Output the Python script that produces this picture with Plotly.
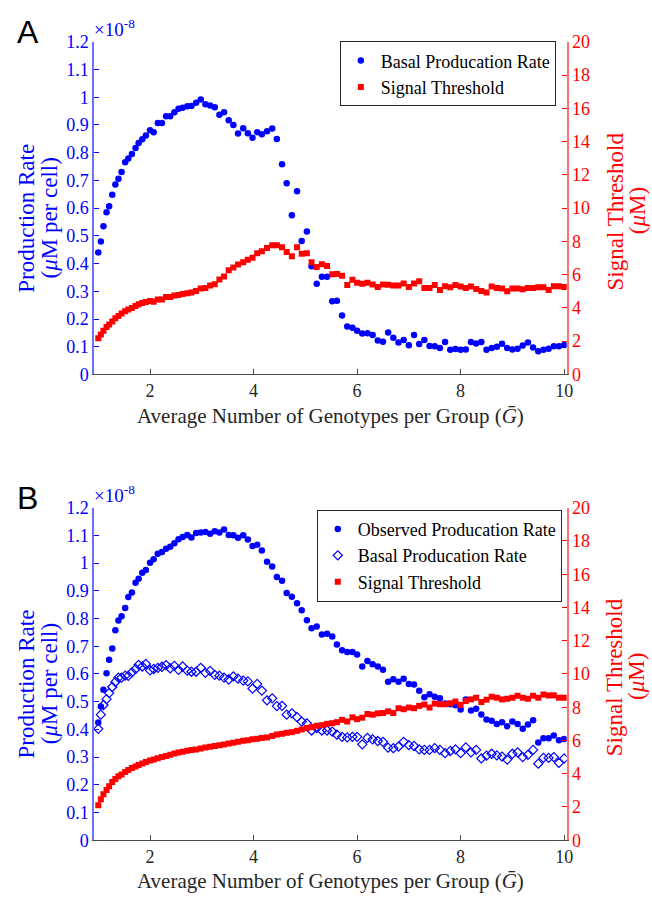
import plotly.graph_objects as go

# ---------------- data ----------------
x_vals = [1.00, 1.05, 1.10, 1.16, 1.21, 1.27, 1.33, 1.39, 1.45, 1.52, 1.58, 1.65, 1.72, 1.78, 1.85, 1.92, 2.00,
          2.07, 2.15, 2.23, 2.31, 2.39, 2.47, 2.55, 2.63, 2.72, 2.80, 2.89, 2.98, 3.07, 3.16, 3.25, 3.34, 3.43,
          3.52, 3.61, 3.70, 3.80, 3.89, 3.98,
          4.07, 4.16, 4.26, 4.36, 4.45, 4.55, 4.64, 4.74, 4.84, 4.93, 5.03, 5.12, 5.22, 5.32, 5.42, 5.52, 5.61,
          5.71, 5.81, 5.91,
          6.0, 6.1, 6.2, 6.3, 6.4, 6.5, 6.6, 6.7, 6.8, 6.9, 7.0, 7.1, 7.2, 7.3, 7.4, 7.5, 7.6, 7.7, 7.8, 7.9,
          8.0, 8.1, 8.2, 8.3, 8.4, 8.5, 8.6, 8.7, 8.8, 8.9, 9.0, 9.1, 9.2, 9.3, 9.4, 9.5, 9.6, 9.7, 9.8, 9.9, 10.0]

# Panel A (production rate in units of 1e-8 uM per cell, threshold in uM)
a_basal = [0.44, 0.48, 0.535, 0.585, 0.607, 0.648, 0.685, 0.706, 0.73, 0.765, 0.779, 0.795, 0.817, 0.835, 0.848, 0.862, 0.881,
           0.874, 0.907, 0.907, 0.931, 0.931, 0.946, 0.958, 0.962, 0.967, 0.968, 0.980, 0.992, 0.975, 0.970, 0.964, 0.937,
           0.946, 0.917, 0.900, 0.869, 0.888, 0.870, 0.854,
           0.874, 0.866, 0.877, 0.887, 0.849, 0.758, 0.690, 0.574, 0.661, 0.481, 0.516, 0.390, 0.327, 0.352, 0.352, 0.264,
           0.266, 0.213, 0.173, 0.168,
           0.158, 0.148, 0.149, 0.142, 0.122, 0.118, 0.151, 0.132, 0.115, 0.124, 0.105, 0.142, 0.110, 0.124, 0.103, 0.102,
           0.095, 0.117, 0.089, 0.092, 0.089, 0.090, 0.117, 0.112, 0.117, 0.089, 0.095, 0.100, 0.111, 0.095, 0.090, 0.093,
           0.104, 0.115, 0.097, 0.084, 0.089, 0.093, 0.102, 0.102, 0.106]
a_signal = [2.17, 2.40, 2.62, 2.85, 3.00, 3.18, 3.38, 3.52, 3.66, 3.80, 3.90, 4.00, 4.12, 4.22, 4.30, 4.36, 4.41,
            4.37, 4.51, 4.51, 4.65, 4.66, 4.75, 4.78, 4.84, 4.88, 4.92, 5.02, 5.16, 5.19, 5.34, 5.43, 5.71, 5.89, 6.26,
            6.43, 6.61, 6.75, 6.89, 7.01,
            7.28, 7.40, 7.60, 7.76, 7.76, 7.64, 7.36, 7.11, 7.64, 7.26, 7.28, 6.75, 6.46, 6.63, 6.52, 6.02, 6.04, 5.93,
            5.37, 5.69,
            5.51, 5.45, 5.51, 5.41, 5.25, 5.41, 5.40, 5.34, 5.34, 5.47, 5.25, 5.47, 5.61, 5.19, 5.19, 5.37, 5.08, 5.30,
            5.24, 5.37, 5.28, 5.19, 5.28, 5.14, 5.02, 4.92, 5.28, 5.19, 5.16, 5.00, 5.16, 5.16, 5.12, 5.19, 5.19, 5.24,
            5.24, 5.08, 5.30, 5.30, 5.25]

# Panel B
b_observed = [0.425, 0.483, 0.543, 0.603, 0.651, 0.692, 0.758, 0.793, 0.808, 0.838, 0.878, 0.894, 0.929, 0.944, 0.965,
              0.975, 1.001,
              1.014, 1.034, 1.040, 1.052, 1.059, 1.072, 1.086, 1.094, 1.102, 1.093, 1.109, 1.111, 1.112, 1.106, 1.115,
              1.111, 1.121, 1.102, 1.101, 1.092, 1.101, 1.085, 1.062,
              1.066, 1.046, 1.005, 0.988, 0.950, 0.936, 0.892, 0.879, 0.855, 0.830, 0.794, 0.765, 0.771, 0.742, 0.745,
              0.735, 0.706, 0.686, 0.679, 0.679,
              0.670, 0.627, 0.647, 0.635, 0.627, 0.615, 0.572, 0.581, 0.572, 0.583, 0.564, 0.562, 0.539, 0.516, 0.527,
              0.518, 0.512, 0.493, 0.491, 0.487, 0.472, 0.508, 0.468, 0.474, 0.454, 0.436, 0.431, 0.419, 0.426, 0.411,
              0.428, 0.419, 0.402, 0.418, 0.433, 0.353, 0.368, 0.368, 0.378, 0.361, 0.365]
b_basal = [0.402, 0.453, 0.488, 0.509, 0.531, 0.553, 0.571, 0.587, 0.587, 0.594, 0.593, 0.606, 0.618, 0.633, 0.627,
           0.636, 0.613,
           0.618, 0.622, 0.626, 0.632, 0.620, 0.629, 0.615, 0.627, 0.612, 0.608, 0.608, 0.622, 0.604, 0.611, 0.597,
           0.594, 0.587, 0.580, 0.591, 0.583, 0.576, 0.573, 0.547,
           0.564, 0.540, 0.505, 0.512, 0.484, 0.485, 0.453, 0.458, 0.444, 0.428, 0.422, 0.396, 0.405, 0.396, 0.396,
           0.392, 0.381, 0.373, 0.371, 0.373,
           0.373, 0.346, 0.369, 0.364, 0.358, 0.355, 0.334, 0.332, 0.338, 0.355, 0.343, 0.340, 0.328, 0.326, 0.326,
           0.332, 0.326, 0.314, 0.322, 0.328, 0.314, 0.335, 0.317, 0.326, 0.295, 0.305, 0.312, 0.306, 0.302, 0.291,
           0.312, 0.317, 0.300, 0.308, 0.326, 0.276, 0.297, 0.297, 0.300, 0.279, 0.295]
b_signal = [2.10, 2.47, 2.76, 3.02, 3.25, 3.50, 3.68, 3.84, 3.95, 4.10, 4.23, 4.34, 4.44, 4.52, 4.62, 4.70, 4.79,
            4.86, 4.93, 5.00, 5.07, 5.14, 5.21, 5.27, 5.32, 5.38, 5.42, 5.46, 5.52, 5.57, 5.62, 5.66, 5.71, 5.76, 5.81,
            5.86, 5.92, 5.98, 6.02, 6.07,
            6.10, 6.15, 6.18, 6.27, 6.36, 6.40, 6.46, 6.50, 6.58, 6.66, 6.75, 6.80, 6.88, 6.92, 7.00, 7.04, 7.10, 7.24,
            7.14, 7.39,
            7.28, 7.37, 7.59, 7.55, 7.63, 7.65, 7.75, 7.65, 7.94, 7.88, 7.98, 7.94, 8.08, 8.16, 7.98, 8.22, 8.18, 8.18,
            8.24, 8.34, 8.14, 8.37, 8.47, 8.57, 8.31, 8.45, 8.63, 8.57, 8.47, 8.51, 8.57, 8.69, 8.57, 8.51, 8.69, 8.57,
            8.76, 8.71, 8.72, 8.57, 8.57]

left_ticks = [0, 0.1, 0.2, 0.3, 0.4, 0.5, 0.6, 0.7, 0.8, 0.9, 1.0, 1.1, 1.2]
left_tick_text = ["0", "0.1", "0.2", "0.3", "0.4", "0.5", "0.6", "0.7", "0.8", "0.9", "1", "1.1", "1.2"]
right_ticks = [0, 2, 4, 6, 8, 10, 12, 14, 16, 18, 20]
x_ticks = [2, 4, 6, 8, 10]

# ---------------- styling ----------------
W, H = 652, 903
BLUE = "rgb(0,0,255)"
RED = "rgb(255,0,0)"
SERIF = "'Liberation Serif', 'Times New Roman', Times, serif"
SANS = "'Liberation Sans', Arial, Helvetica, sans-serif"
GREY = "#262626"


def px(x):
    return x / W


def py(y):
    return 1 - y / H


XL, XR = 95, 572
panels = [
    dict(top=32.5, bot=372.7),   # A
    dict(top=509.0, bot=849.0),  # B
]

fig = go.Figure()

# Panel A traces
fig.add_trace(go.Scatter(x=x_vals, y=a_basal, mode="markers", name="Basal Producation Rate",
                         marker=dict(symbol="circle", size=6.5, color=BLUE),
                         xaxis="x", yaxis="y", legend="legend"))
fig.add_trace(go.Scatter(x=x_vals, y=a_signal, mode="markers", name="Signal Threshold",
                         marker=dict(symbol="square", size=6, color=RED),
                         xaxis="x", yaxis="y2", legend="legend"))

# Panel B traces
fig.add_trace(go.Scatter(x=x_vals, y=b_observed, mode="markers", name="Observed Producation Rate",
                         marker=dict(symbol="circle", size=6.5, color=BLUE),
                         xaxis="x2", yaxis="y3", legend="legend2"))
fig.add_trace(go.Scatter(x=x_vals, y=b_basal, mode="markers", name="Basal Producation Rate",
                         marker=dict(symbol="diamond-open", size=7, color=BLUE, line=dict(width=1.2, color=BLUE)),
                         xaxis="x2", yaxis="y3", legend="legend2"))
fig.add_trace(go.Scatter(x=x_vals, y=b_signal, mode="markers", name="Signal Threshold",
                         marker=dict(symbol="square", size=6, color=RED),
                         xaxis="x2", yaxis="y4", legend="legend2"))

xdom = [px(XL), px(XR)]
common_x = dict(domain=xdom, range=[0.92, 10.05], tickvals=x_ticks, ticks="inside", ticklen=5,
                tickcolor="#4d4d4d", showline=True, linecolor="#4d4d4d", linewidth=1.2,
                showgrid=False, zeroline=False, tickfont=dict(family=SERIF, size=18, color=GREY))


def left_axis(dom, anchor):
    return dict(domain=dom, anchor=anchor, range=[0, 1.2], tickvals=left_ticks, ticktext=left_tick_text,
                ticks="inside", ticklen=5, tickcolor=BLUE, showline=True, linecolor="#6f6fff", linewidth=1.5,
                showgrid=False, zeroline=False, tickfont=dict(family=SERIF, size=18, color=BLUE))


def right_axis(overlay, anchor):
    return dict(overlaying=overlay, anchor=anchor, side="right", range=[0, 20], tickvals=right_ticks,
                ticks="inside", ticklen=5, tickcolor=RED, showline=True, linecolor="#ff7070", linewidth=1.5,
                showgrid=False, zeroline=False, tickfont=dict(family=SERIF, size=18, color=RED))


domA = [py(panels[0]["bot"]), py(panels[0]["top"])]
domB = [py(panels[1]["bot"]), py(panels[1]["top"])]

legend_common = dict(xanchor="right", yanchor="top", bgcolor="white",
                     bordercolor="#262626", borderwidth=1,
                     font=dict(family=SERIF, size=18, color="black"),
                     tracegroupgap=0, itemwidth=30)

fig.update_layout(
    width=W, height=H, autosize=False,
    margin=dict(l=0, r=0, t=0, b=0),
    paper_bgcolor="white", plot_bgcolor="white",
    font=dict(family=SERIF),
    xaxis=dict(common_x, anchor="y"),
    yaxis=left_axis(domA, "x"),
    yaxis2=right_axis("y", "x"),
    xaxis2=dict(common_x, anchor="y3"),
    yaxis3=left_axis(domB, "x2"),
    yaxis4=right_axis("y3", "x2"),
    legend=dict(legend_common, x=px(561), y=py(32)),
    legend2=dict(legend_common, x=px(567), y=py(511)),
    showlegend=True,
)

ann = []
for i, p in enumerate(panels):
    off = p["bot"] - panels[0]["bot"]
    ann.append(dict(text="AB"[i], x=px(15), y=py(2 + off),
                    xref="paper", yref="paper", xanchor="left", yanchor="top", showarrow=False,
                    font=dict(family=SANS, size=32, color="black")))
    ann.append(dict(text="×10<sup>-8</sup>", x=px(93), y=py(p["top"] - 14), xref="paper", yref="paper",
                    xanchor="left", yanchor="middle", showarrow=False,
                    font=dict(family=SERIF, size=19, color=BLUE)))
    ann.append(dict(text="Average Number of Genotypes per Group (<i>Ḡ</i>)", x=px(334), y=py(p["bot"] + 42),
                    xref="paper", yref="paper", xanchor="center", yanchor="middle", showarrow=False,
                    font=dict(family=SERIF, size=21, color=GREY)))
    ann.append(dict(text="Production Rate", x=px(27), y=py(p["bot"] - 160),
                    xref="paper", yref="paper", xanchor="center", yanchor="middle", showarrow=False,
                    textangle=-90, font=dict(family=SERIF, size=23, color=BLUE)))
    ann.append(dict(text="(<i>μ</i>M per cell)", x=px(50), y=py(p["bot"] - 160),
                    xref="paper", yref="paper", xanchor="center", yanchor="middle", showarrow=False,
                    textangle=-90, font=dict(family=SERIF, size=23, color=BLUE)))
    ann.append(dict(text="Signal Threshold", x=px(621), y=py(p["bot"] - 167),
                    xref="paper", yref="paper", xanchor="center", yanchor="middle", showarrow=False,
                    textangle=-90, font=dict(family=SERIF, size=23, color=RED)))
    ann.append(dict(text="(<i>μ</i>M)", x=px(643), y=py(p["bot"] - 167),
                    xref="paper", yref="paper", xanchor="center", yanchor="middle", showarrow=False,
                    textangle=-90, font=dict(family=SERIF, size=23, color=RED)))

fig.update_layout(annotations=ann)

fig.write_html("out.html")
